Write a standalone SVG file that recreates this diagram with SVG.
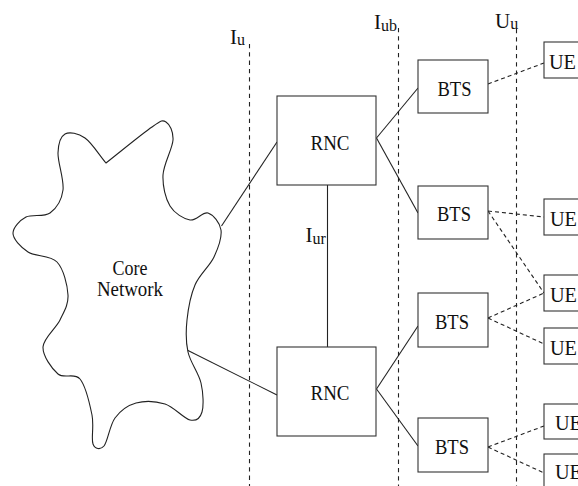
<svg xmlns="http://www.w3.org/2000/svg" width="578" height="486" viewBox="0 0 578 486">
  <style>
    .box { fill: #fff; stroke: #333; stroke-width: 1.1; }
    .link { fill: none; stroke: #222; stroke-width: 1.1; }
    .radio { fill: none; stroke: #222; stroke-width: 1.1; stroke-dasharray: 4 3; }
    .iface { fill: none; stroke: #222; stroke-width: 1.1; stroke-dasharray: 4.3 4; }
    .lbl { font-family: "Liberation Serif", "Times New Roman", serif; font-size: 21px; fill: #111; }
    .sub { font-size: 16px; }
    .mid { text-anchor: middle; }
  </style>
  <rect width="578" height="486" fill="#fff"/>

  <!-- interface boundaries -->
  <g id="interfaces">
    <line class="iface" x1="249.5" y1="44" x2="249.5" y2="486"/>
    <line class="iface" x1="398.5" y1="28" x2="398.5" y2="486"/>
    <line class="iface" x1="516.5" y1="29" x2="516.5" y2="486"/>
    <text class="lbl" x="230" y="44">I<tspan class="sub" dy="1">u</tspan></text>
    <text class="lbl" x="374" y="29">I<tspan class="sub" dy="2">ub</tspan></text>
    <text class="lbl" x="495" y="28" font-size="19">U<tspan class="sub" dy="1">u</tspan></text>
  </g>

  <!-- connectors -->
  <g id="connectors">
    <line class="link" x1="221.5" y1="226" x2="277" y2="142"/>
    <line class="link" x1="187" y1="350" x2="277" y2="395"/>
    <line class="link" x1="327.5" y1="185" x2="327.5" y2="347"/>
    <line class="link" x1="376.5" y1="138" x2="418" y2="88"/>
    <line class="link" x1="376.5" y1="138" x2="418" y2="213"/>
    <line class="link" x1="376.5" y1="389" x2="418" y2="326"/>
    <line class="link" x1="376.5" y1="389" x2="418" y2="446"/>
    <line class="radio" x1="488" y1="84" x2="544" y2="63"/>
    <line class="radio" x1="488" y1="211" x2="544" y2="217"/>
    <line class="radio" x1="488" y1="211" x2="544" y2="293"/>
    <line class="radio" x1="488" y1="318" x2="544" y2="293"/>
    <line class="radio" x1="488" y1="318" x2="544" y2="344"/>
    <line class="radio" x1="488" y1="447" x2="544" y2="426"/>
    <line class="radio" x1="488" y1="447" x2="544" y2="473"/>
    <text class="lbl" x="305.5" y="242">I<tspan class="sub" dy="2">ur</tspan></text>
  </g>

  <!-- core network cloud -->
  <g id="core">
    <path fill="#fff" stroke="#222" stroke-width="1.1" d="M106,163
      C121.3,151 142,133.8 152,127
      C162,120.2 162.5,119.8 166,122
      C169.5,124.2 173.5,131.2 173,140
      C172.5,148.8 163.5,164 163,175
      C162.5,186 165.5,198.5 170,206
      C174.5,213.5 183.7,218.8 190,220
      C196.3,221.2 202.8,211.3 208,213
      C213.2,214.7 220,222.7 221,230
      C222,237.3 218.3,247.8 214,257
      C209.7,266.2 199.5,274.5 195,285
      C190.5,295.5 188.2,308.8 187,320
      C185.8,331.2 185.7,341.5 188,352
      C190.3,362.5 198.7,373 201,383
      C203.3,393 203.8,405.8 202,412
      C200.2,418.2 196.2,421.3 190,420
      C183.8,418.7 174,406.8 165,404
      C156,401.2 144.3,400.7 136,403
      C127.7,405.3 120.3,410.8 115,418
      C109.7,425.2 107.7,441.7 104,446
      C100.3,450.3 95,449.2 93,444
      C91,438.8 94.2,425.8 92,415
      C89.8,404.2 85.7,385.8 80,379
      C74.3,372.2 64.2,379.3 58,374
      C51.8,368.7 42.7,356 43,347
      C43.3,338 55.8,328.7 60,320
      C64.2,311.3 68.5,304.7 68,295
      C67.5,285.3 63.7,269.2 57,262
      C50.3,254.8 35.3,256.8 28,252
      C20.7,247.2 12.7,238.8 13,233
      C13.3,227.2 19.8,220.3 26,217
      C32.2,213.7 43.8,217.5 50,213
      C56.2,208.5 61.7,200 63,190
      C64.3,180 57.7,162.3 58,153
      C58.3,143.7 60.5,136.5 65,134
      C69.5,131.5 78.2,133.2 85,138
      C91.8,142.8 99,154.7 106,163 Z"/>
    <text class="lbl mid" x="130" y="275" textLength="35" lengthAdjust="spacingAndGlyphs">Core</text>
    <text class="lbl mid" x="130" y="296" textLength="66" lengthAdjust="spacingAndGlyphs">Network</text>
  </g>

  <!-- radio network controllers -->
  <g id="rnc1">
    <rect class="box" x="277" y="96" width="99" height="89"/>
    <text class="lbl mid" x="330" y="150" textLength="39" lengthAdjust="spacingAndGlyphs">RNC</text>
  </g>
  <g id="rnc2">
    <rect class="box" x="277" y="347" width="99" height="89"/>
    <text class="lbl mid" x="330" y="400" textLength="39" lengthAdjust="spacingAndGlyphs">RNC</text>
  </g>

  <!-- base stations -->
  <g id="bts1">
    <rect class="box" x="418" y="60" width="70" height="53"/>
    <text class="lbl mid" x="454.5" y="96" textLength="34" lengthAdjust="spacingAndGlyphs">BTS</text>
  </g>
  <g id="bts2">
    <rect class="box" x="418" y="186" width="70" height="53"/>
    <text class="lbl mid" x="454" y="221" textLength="34" lengthAdjust="spacingAndGlyphs">BTS</text>
  </g>
  <g id="bts3">
    <rect class="box" x="418" y="293" width="70" height="54"/>
    <text class="lbl mid" x="452" y="328.5" textLength="34" lengthAdjust="spacingAndGlyphs">BTS</text>
  </g>
  <g id="bts4">
    <rect class="box" x="418" y="418" width="70" height="54"/>
    <text class="lbl mid" x="452" y="453.5" textLength="34" lengthAdjust="spacingAndGlyphs">BTS</text>
  </g>

  <!-- user equipment -->
  <g id="ue1">
    <rect class="box" x="544" y="42" width="44" height="36"/>
    <text class="lbl" x="549" y="69" textLength="27" lengthAdjust="spacingAndGlyphs">UE</text>
  </g>
  <g id="ue2">
    <rect class="box" x="544" y="199" width="44" height="36"/>
    <text class="lbl" x="550" y="226" textLength="27" lengthAdjust="spacingAndGlyphs">UE</text>
  </g>
  <g id="ue3">
    <rect class="box" x="544" y="275" width="44" height="36"/>
    <text class="lbl" x="550" y="302" textLength="27" lengthAdjust="spacingAndGlyphs">UE</text>
  </g>
  <g id="ue4">
    <rect class="box" x="544" y="328" width="44" height="36"/>
    <text class="lbl" x="550" y="355" textLength="27" lengthAdjust="spacingAndGlyphs">UE</text>
  </g>
  <g id="ue5">
    <rect class="box" x="544" y="404" width="44" height="35"/>
    <text class="lbl" x="555" y="430" textLength="27" lengthAdjust="spacingAndGlyphs">UE</text>
  </g>
  <g id="ue6">
    <rect class="box" x="544" y="454" width="44" height="36"/>
    <text class="lbl" x="555" y="479" textLength="27" lengthAdjust="spacingAndGlyphs">UE</text>
  </g>
</svg>
